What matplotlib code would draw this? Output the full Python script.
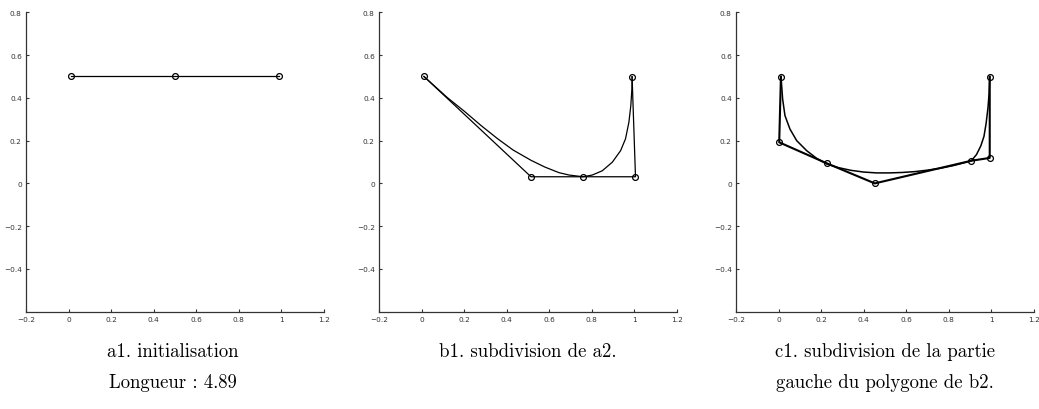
import numpy as np
import matplotlib
matplotlib.use("Agg")
import matplotlib.pyplot as plt

# panel a1 : control polygon only
a_poly_x = [0.01, 0.50, 0.99]
a_poly_y = [0.50, 0.50, 0.50]

# panel b1 : polygon and curve
b_poly_x = [0.011, 0.514, 0.758, 1.005, 0.989]
b_poly_y = [0.500, 0.031, 0.031, 0.031, 0.499]
b_curve_x = [0.011, 0.06, 0.12, 0.20, 0.28, 0.357, 0.43, 0.514, 0.58, 0.646, 0.693, 0.758,
             0.802, 0.849, 0.896, 0.935, 0.958, 0.974, 0.983, 0.988, 0.989]
b_curve_y = [0.500, 0.456, 0.402, 0.338, 0.270, 0.209, 0.156, 0.108, 0.076, 0.050, 0.039, 0.031,
             0.039, 0.059, 0.099, 0.153, 0.208, 0.286, 0.363, 0.441, 0.499]

# panel c1 : polygon and curve
c_poly_x = [0.011, 0.003, 0.226, 0.452, 0.906, 0.992, 0.992]
c_poly_y = [0.499, 0.192, 0.094, 0.000, 0.106, 0.119, 0.499]
c_curve_x = [0.0113, 0.015, 0.019, 0.030, 0.0535, 0.085, 0.132, 0.179, 0.226, 0.28, 0.34, 0.40,
             0.46, 0.52, 0.58, 0.64, 0.70, 0.76, 0.82, 0.87, 0.906, 0.93, 0.95, 0.965, 0.975,
             0.984, 0.989, 0.992]
c_curve_y = [0.499, 0.45, 0.395, 0.317, 0.254, 0.200, 0.153, 0.117, 0.091, 0.074, 0.061, 0.053,
             0.049, 0.049, 0.051, 0.055, 0.062, 0.071, 0.083, 0.096, 0.106, 0.135, 0.175, 0.22,
             0.28, 0.356, 0.42, 0.499]

xticks = [-0.2, 0, 0.2, 0.4, 0.6, 0.8, 1, 1.2]
xlabels = ["\u22120.2", "0", "0.2", "0.4", "0.6", "0.8", "1", "1.2"]
yticks = [-0.4, -0.2, 0, 0.2, 0.4, 0.6, 0.8]
ylabels = ["\u22120.4", "\u22120.2", "0", "0.2", "0.4", "0.6", "0.8"]

captions = [
    "a1. initialisation\nLongueur : 4.89",
    "b1. subdivision de a2.",
    "c1. subdivision de la partie\ngauche du polygone de b2.",
]

fig = plt.figure(figsize=(10.39, 4.10), dpi=100)
W, H = 1039, 410
lefts = [26, 379, 736]
ax_w = 298
top, bottom = 13.3, 312.7

axes = []
for l in lefts:
    ax = fig.add_axes([l / W, 1 - bottom / H, ax_w / W, (bottom - top) / H])
    ax.set_xlim(-0.2, 1.2)
    ax.set_ylim(-0.6, 0.8)
    ax.set_xticks(xticks)
    ax.set_xticklabels(xlabels)
    ax.set_yticks(yticks)
    ax.set_yticklabels(ylabels)
    ax.tick_params(direction="in", length=2, width=0.8, labelsize=5.3, colors="#333333", pad=3)
    for s in ["top", "right"]:
        ax.spines[s].set_visible(False)
    for s in ["left", "bottom"]:
        ax.spines[s].set_color("#333333")
        ax.spines[s].set_linewidth(0.9)
    axes.append(ax)

mk = dict(marker="o", markersize=4.2, markerfacecolor="none", markeredgecolor="black", markeredgewidth=0.9)

axes[0].plot(a_poly_x, a_poly_y, color="black", lw=0.9, **mk)

axes[1].plot(b_curve_x, b_curve_y, color="black", lw=0.9, solid_joinstyle="round")
axes[1].plot(b_poly_x, b_poly_y, color="black", lw=0.9, **mk)

axes[2].plot(c_curve_x, c_curve_y, color="black", lw=1.1, solid_joinstyle="round")
axes[2].plot(c_poly_x, c_poly_y, color="black", lw=1.5, **mk)

centers = [173, 528, 885]
for cx, txt in zip(centers, captions):
    fig.text(cx / W, 1 - 343 / H, txt, ha="center", va="top", family="cmr10",
             fontsize=13.5, linespacing=1.95)

fig.savefig("out.png", dpi=100)
